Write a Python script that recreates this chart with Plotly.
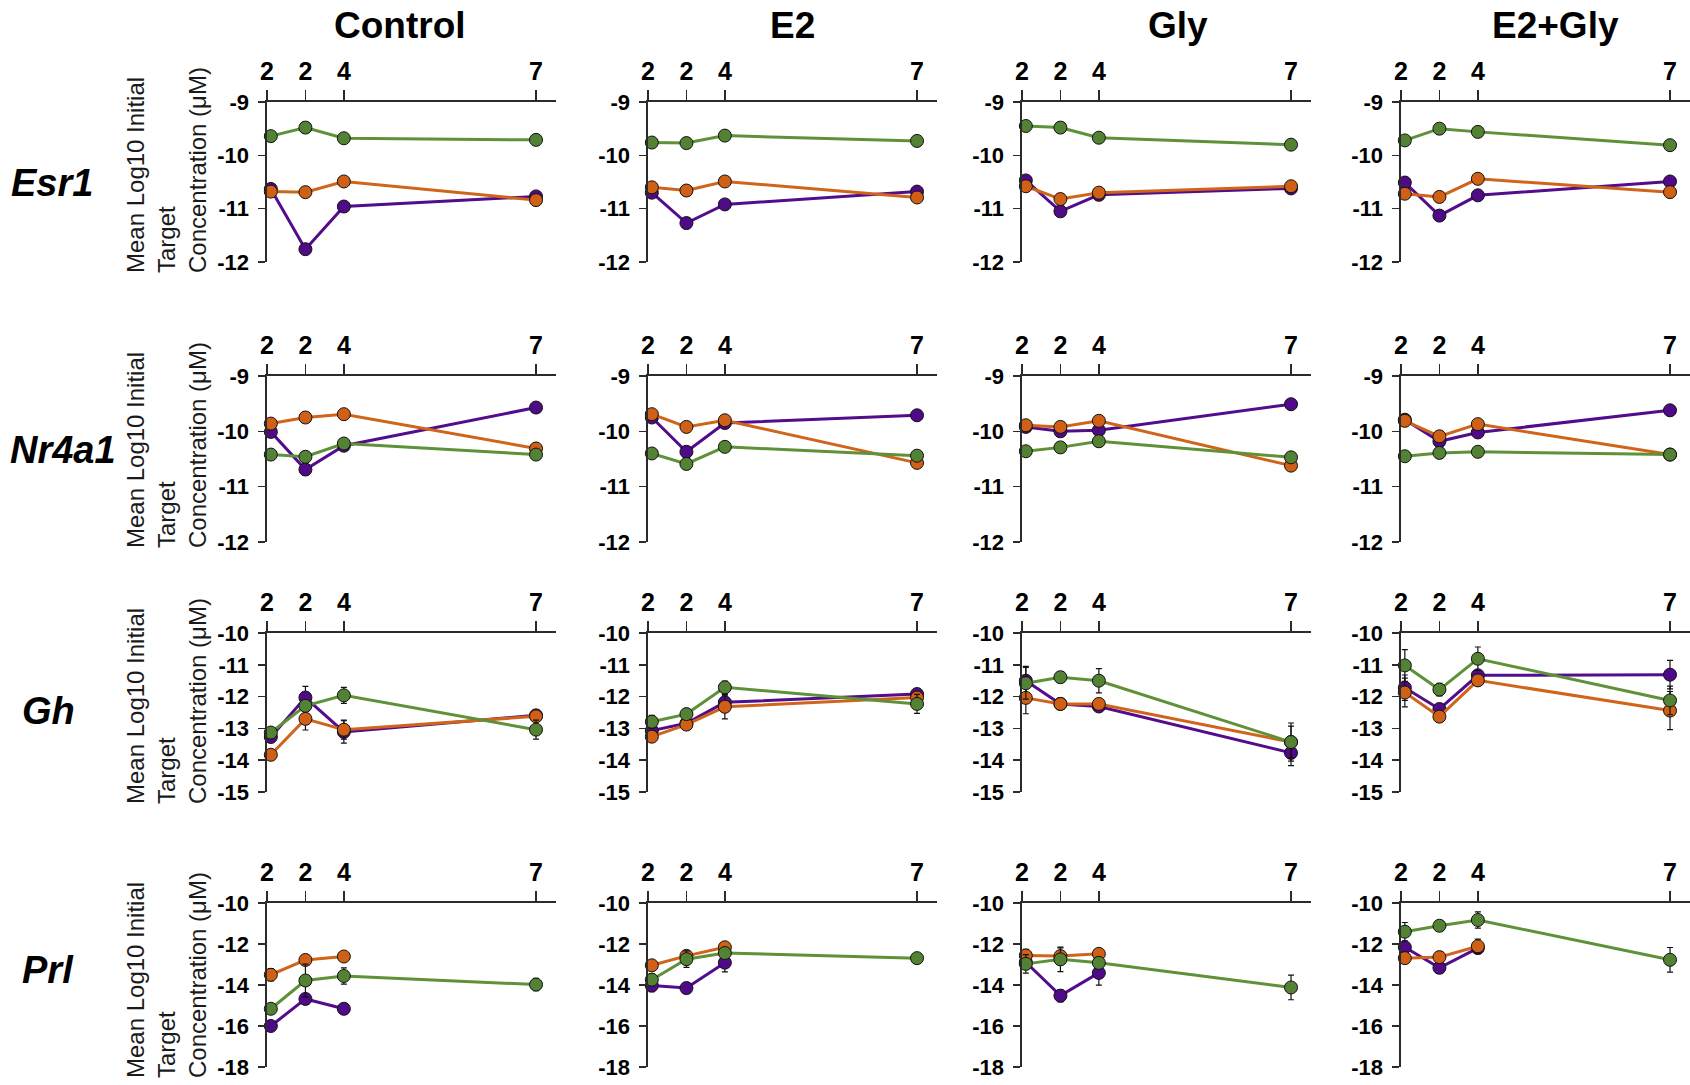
import plotly.graph_objects as go

# ---------------- data ----------------
TREATMENTS = ["Control", "E2", "Gly", "E2+Gly"]
GENES = ["Esr1", "Nr4a1", "Gh", "Prl"]
X_POS = [0.1, 1, 2, 7]           # sampling positions (data)
TICK_POS = [0, 1, 2, 7]
TICK_TEXT = ["2", "2", "4", "7"]

# each list: [Control, E2, Gly, E2+Gly]
ESR1_PURPLE = [[-10.63, -11.76, -10.96, -10.77], [-10.70, -11.27, -10.92, -10.68],
               [-10.47, -11.05, -10.74, -10.62], [-10.51, -11.13, -10.75, -10.49]]
ESR1_ORANGE = [[-10.68, -10.69, -10.49, -10.84], [-10.60, -10.66, -10.49, -10.79],
               [-10.58, -10.82, -10.70, -10.58], [-10.72, -10.78, -10.44, -10.69]]
ESR1_GREEN = [[-9.64, -9.48, -9.68, -9.71], [-9.76, -9.77, -9.63, -9.73],
              [-9.45, -9.48, -9.67, -9.80], [-9.72, -9.50, -9.56, -9.81]]
ESR1_PURPLE_ERR = [[0.04, 0.05, 0.04, 0.04], [0.03, 0.04, 0.04, 0.03],
                   [0.04, 0.05, 0.03, 0.03], [0.03, 0.04, 0.04, 0.03]]
ESR1_ORANGE_ERR = [[0.04, 0.04, 0.05, 0.04], [0.03, 0.03, 0.03, 0.03],
                   [0.03, 0.04, 0.03, 0.03], [0.03, 0.03, 0.03, 0.03]]
ESR1_GREEN_ERR = [[0.04, 0.04, 0.04, 0.04], [0.03, 0.03, 0.03, 0.03],
                  [0.03, 0.05, 0.03, 0.03], [0.03, 0.03, 0.03, 0.03]]

NR4A1_PURPLE = [[-10.01, -10.69, -10.26, -9.57], [-9.75, -10.37, -9.85, -9.71],
                [-9.92, -10.00, -9.98, -9.51], [-9.79, -10.18, -10.02, -9.62]]
NR4A1_ORANGE = [[-9.86, -9.75, -9.69, -10.31], [-9.69, -9.92, -9.80, -10.57],
                [-9.89, -9.92, -9.81, -10.62], [-9.81, -10.09, -9.87, -10.42]]
NR4A1_GREEN = [[-10.42, -10.46, -10.22, -10.42], [-10.40, -10.59, -10.28, -10.44],
               [-10.36, -10.29, -10.18, -10.47], [-10.45, -10.39, -10.37, -10.42]]
NR4A1_PURPLE_ERR = [[0.04, 0.10, 0.06, 0.05], [0.04, 0.08, 0.05, 0.05],
                    [0.04, 0.06, 0.04, 0.04], [0.03, 0.05, 0.04, 0.05]]
NR4A1_ORANGE_ERR = [[0.04, 0.06, 0.04, 0.10], [0.04, 0.05, 0.04, 0.06],
                    [0.04, 0.05, 0.04, 0.07], [0.04, 0.06, 0.04, 0.05]]
NR4A1_GREEN_ERR = [[0.04, 0.05, 0.05, 0.04], [0.04, 0.05, 0.04, 0.04],
                   [0.04, 0.06, 0.04, 0.04], [0.04, 0.04, 0.04, 0.10]]

GH_PURPLE = [[-13.27, -12.03, -13.11, -12.59], [-13.07, -12.84, -12.18, -11.92],
             [-11.50, -12.23, -12.31, -13.77], [-11.72, -12.39, -11.33, -11.31]]
GH_ORANGE = [[-13.83, -12.70, -13.04, -12.62], [-13.26, -12.88, -12.32, -12.03],
             [-12.04, -12.23, -12.23, -13.43], [-11.87, -12.63, -11.49, -12.44]]
GH_GREEN = [[-13.13, -12.29, -11.96, -13.04], [-12.79, -12.55, -11.71, -12.23],
            [-11.58, -11.39, -11.50, -13.43], [-11.02, -11.78, -10.81, -12.12]]
GH_PURPLE_ERR = [[0.10, 0.35, 0.35, 0.10], [0.10, 0.10, 0.20, 0.15],
                 [0.45, 0.10, 0.10, 0.40], [0.40, 0.10, 0.10, 0.45]]
GH_ORANGE_ERR = [[0.05, 0.35, 0.30, 0.10], [0.10, 0.10, 0.38, 0.15],
                 [0.50, 0.10, 0.10, 0.50], [0.45, 0.10, 0.10, 0.60]]
GH_GREEN_ERR = [[0.15, 0.10, 0.25, 0.30], [0.20, 0.10, 0.20, 0.30],
                [0.50, 0.15, 0.38, 0.60], [0.50, 0.20, 0.37, 0.45]]

PRL_PURPLE = [[-16.00, -14.68, -15.16, None], [-14.03, -14.15, -12.91, None],
              [-12.89, -14.52, -13.41, None], [-12.16, -13.16, -12.20, None]]
PRL_ORANGE = [[-13.50, -12.78, -12.61, None], [-13.04, -12.58, -12.16, None],
              [-12.56, -12.59, -12.48, None], [-12.69, -12.64, -12.11, None]]
PRL_GREEN = [[-15.16, -13.78, -13.56, -13.98], [-13.74, -12.74, -12.44, -12.69],
             [-12.97, -12.75, -12.92, -14.12], [-11.40, -11.11, -10.83, -12.77]]
PRL_PURPLE_ERR = [[0.10, 0.10, 0.10, 0], [0.30, 0.10, 0.45, 0],
                  [0.10, 0.30, 0.60, 0], [0.10, 0.10, 0.10, 0]]
PRL_ORANGE_ERR = [[0.30, 0.10, 0.10, 0], [0.10, 0.15, 0.10, 0],
                  [0.30, 0.40, 0.20, 0], [0.10, 0.10, 0.35, 0]]
PRL_GREEN_ERR = [[0.10, 0.80, 0.40, 0.30], [0.30, 0.40, 0.10, 0.10],
                 [0.45, 0.60, 0.15, 0.60], [0.45, 0.10, 0.40, 0.60]]

Y_TICKS = {
    "Esr1": [-9, -10, -11, -12],
    "Nr4a1": [-9, -10, -11, -12],
    "Gh": [-10, -11, -12, -13, -14, -15],
    "Prl": [-10, -12, -14, -16, -18],
}

SERIES = {
    "Esr1": [(ESR1_PURPLE, ESR1_PURPLE_ERR, "purple"), (ESR1_ORANGE, ESR1_ORANGE_ERR, "orange"),
             (ESR1_GREEN, ESR1_GREEN_ERR, "green")],
    "Nr4a1": [(NR4A1_PURPLE, NR4A1_PURPLE_ERR, "purple"), (NR4A1_ORANGE, NR4A1_ORANGE_ERR, "orange"),
              (NR4A1_GREEN, NR4A1_GREEN_ERR, "green")],
    "Gh": [(GH_PURPLE, GH_PURPLE_ERR, "purple"), (GH_ORANGE, GH_ORANGE_ERR, "orange"),
           (GH_GREEN, GH_GREEN_ERR, "green")],
    "Prl": [(PRL_PURPLE, PRL_PURPLE_ERR, "purple"), (PRL_ORANGE, PRL_ORANGE_ERR, "orange"),
            (PRL_GREEN, PRL_GREEN_ERR, "green")],
}

LINE_COLORS = {"purple": "#520c8c", "orange": "#d0641a", "green": "#5e9138"}
MARKER_COLORS = {"purple": "#4f0a88", "orange": "#cf6015", "green": "#548235"}

# ---------------- layout geometry (page px) ----------------
W, H = 1690, 1085


def fx(px):
    return min(1.0, max(0.0, px / W))


def fy(py):
    return min(1.0, max(0.0, 1 - py / H))


COL_X0 = [267, 648, 1022, 1401]
PANEL_W = 289
ROW_Y = [(102, 262), (376, 542), (633, 792), (903, 1067)]
X_RANGE = [0, 7.52]

FONT = "Arial, Liberation Sans, Helvetica, sans-serif"
AXIS_COLOR = "#2b2b2b"

fig = go.Figure()
layout_axes = {}

for r, gene in enumerate(GENES):
    ticks = Y_TICKS[gene]
    for c, trt in enumerate(TREATMENTS):
        idx = r * 4 + c + 1
        xname = "x" if idx == 1 else f"x{idx}"
        yname = "y" if idx == 1 else f"y{idx}"
        for vals_all, errs_all, col in SERIES[gene]:
            vals = vals_all[c]
            errs = errs_all[c]
            fig.add_trace(go.Scatter(
                x=X_POS, y=vals,
                mode="lines+markers",
                name=f"{gene} {trt} {col}",
                showlegend=False,
                line=dict(color=LINE_COLORS[col], width=3),
                marker=dict(size=13, color=MARKER_COLORS[col],
                            line=dict(color="#111111", width=1)),
                error_y=dict(type="data", array=errs, visible=True,
                             color="#111111", thickness=1.2, width=3),
                cliponaxis=False,
                xaxis=xname, yaxis=yname,
            ))
        x0 = COL_X0[c]
        top, bot = ROW_Y[r]
        layout_axes["xaxis" if idx == 1 else f"xaxis{idx}"] = dict(
            domain=[fx(x0), fx(x0 + PANEL_W)],
            range=X_RANGE,
            anchor=yname,
            side="top",
            automargin=False,
            tickmode="array", tickvals=TICK_POS, ticktext=TICK_TEXT,
            showline=True, linecolor=AXIS_COLOR, linewidth=1.6,
            ticks="outside", ticklen=10, tickwidth=1.5, tickcolor=AXIS_COLOR,
            ticklabeloverflow="allow",
            tickfont=dict(family=FONT, size=25, color="black", weight="bold"),
            showgrid=False, zeroline=False, fixedrange=True,
        )
        layout_axes["yaxis" if idx == 1 else f"yaxis{idx}"] = dict(
            domain=[fy(bot), fy(top)],
            range=[min(ticks), max(ticks)],
            anchor=xname,
            automargin=False,
            tickmode="array", tickvals=ticks, ticktext=[str(t) for t in ticks],
            showline=True, linecolor=AXIS_COLOR, linewidth=1.6,
            ticks="outside", ticklen=7, tickwidth=1.5, tickcolor=AXIS_COLOR,
            ticklabelstandoff=5, ticklabeloverflow="allow",
            tickfont=dict(family=FONT, size=22, color="black", weight="bold"),
            showgrid=False, zeroline=False, fixedrange=True,
        )

annotations = []
TITLE_X = [400, 792, 1178, 1555]
for c, trt in enumerate(TREATMENTS):
    annotations.append(dict(
        text=trt, x=fx(TITLE_X[c]), y=fy(25), xref="paper", yref="paper",
        xanchor="center", yanchor="middle", showarrow=False,
        font=dict(family=FONT, size=37, color="black", weight="bold"),
    ))

ROW_LABEL_POS = [(52, 183), (63, 450), (48, 711), (48, 970)]
for r, gene in enumerate(GENES):
    lx, ly = ROW_LABEL_POS[r]
    annotations.append(dict(
        text=f"<b><i>{gene}</i></b>", x=fx(lx), y=fy(ly),
        xref="paper", yref="paper", xanchor="center", yanchor="middle",
        showarrow=False, font=dict(family=FONT, size=38, color="black"),
    ))

YTITLE_BOTTOM = [275, 550, 806, 1080]
for r in range(4):
    annotations.append(dict(
        text="Mean Log10 Initial<br>Target<br>Concentration (μM)",
        x=fx(166), y=fy(YTITLE_BOTTOM[r]), xref="paper", yref="paper",
        xanchor="center", yanchor="bottom", textangle=-90, align="left",
        showarrow=False, font=dict(family=FONT, size=24, color="#1a1a1a"),
    ))

fig.update_layout(
    width=W, height=H,
    margin=dict(l=0, r=0, t=0, b=0, autoexpand=False),
    paper_bgcolor="white", plot_bgcolor="white",
    annotations=annotations,
    showlegend=False,
    hovermode=False,
    **layout_axes,
)

# remove the page's default 8px body margin so the figure fills the window exactly
fig.write_html(
    "out.html",
    config={"displayModeBar": False, "staticPlot": True},
    post_script="document.body.style.margin='0px';document.body.style.overflow='hidden';",
)
